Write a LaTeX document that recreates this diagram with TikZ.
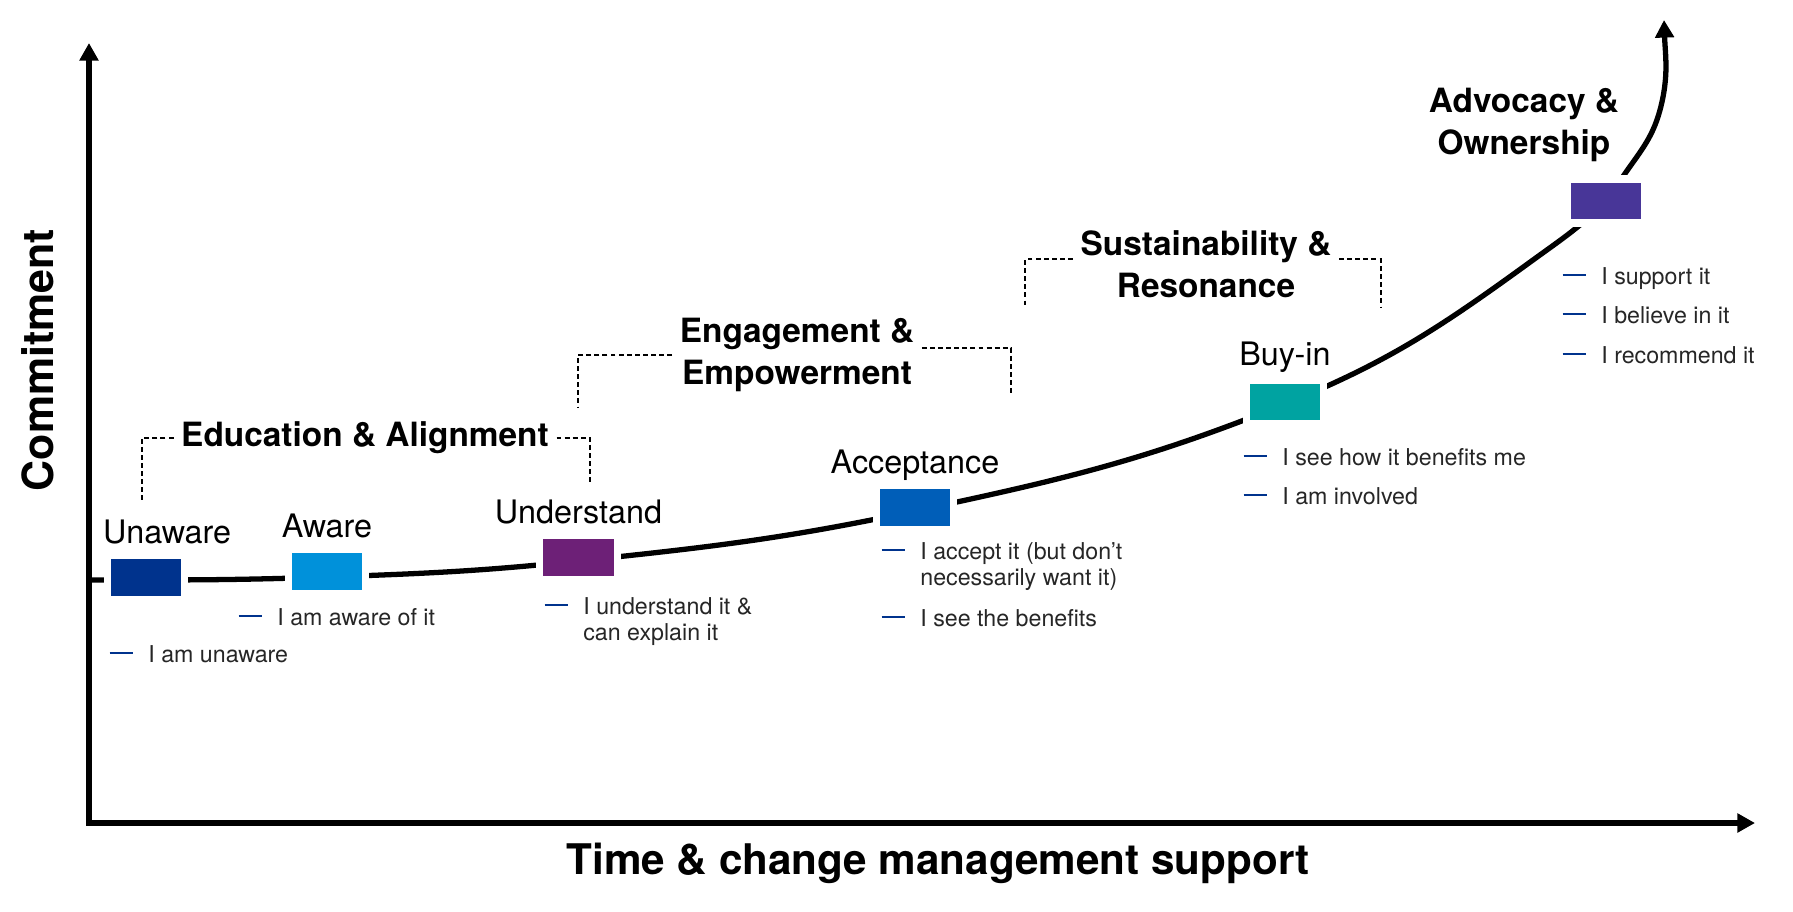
\documentclass[tikz,border=0pt]{standalone}
\usepackage{xcolor}
\usepackage{fontspec}
\setmainfont{TeX Gyre Heros}
\usepackage{tikz}
\usetikzlibrary{arrows.meta,positioning}

\definecolor{kpmgblue}{HTML}{00338D}
\definecolor{kpmgmedium}{HTML}{0091DA}
\definecolor{kpmgpurple}{HTML}{6D2077}
\definecolor{kpmgcobalt}{HTML}{005EB8}
\definecolor{kpmggreen}{HTML}{00A3A1}
\definecolor{kpmgviolet}{HTML}{483698}

\newcommand{\saying}[1]{\textcolor{kpmgblue}{\rule[2.3pt]{6.5pt}{0.55pt}}\hspace{4.5pt}\begin{tabular}[t]{@{}l@{}}#1\end{tabular}}

\begin{document}
\begin{tikzpicture}[x=0.01cm, y=-0.01cm,
    axis/.style={line width=1.5pt},
    curve/.style={line width=1.5pt},
    stagebox/.style={fill=#1, draw=white, line width=2pt, minimum width=0.77cm, minimum height=0.44cm, inner sep=0pt, outer sep=0pt},
    stagelabel/.style={font=\fontsize{9.2}{11}\selectfont, inner sep=0pt},
    phase/.style={font=\fontsize{9.5}{11.95}\selectfont\bfseries, align=center, inner sep=2pt},
    bracket/.style={line width=0.6pt, dash pattern=on 1.4pt off 0.9pt},
    saying/.style={anchor=base west, inner sep=0pt, font=\fontsize{6.6}{7.4}\selectfont, text=black!85}]
    \useasboundingbox (0,0) rectangle (1793,912);

    % axes
    \draw[axis, {Triangle[length=5pt,width=5.2pt]}-{Triangle[length=5pt,width=5.2pt]}] (89,43) -- (89,823) -- (1755,823);
    \node[font=\fontsize{12.2}{14}\selectfont\bfseries, rotate=90] (commitment) at (38,360) {Commitment};
    \node[font=\fontsize{12}{14}\selectfont\bfseries, anchor=base] (time) at (938,874) {Time \& change management support};

    % commitment curve
    \draw[curve, -{Triangle[length=5pt,width=5.2pt]}] (89,580) to[out=0,in=182] (327,577) to[out=2,in=186] (578,561)
        to[out=6,in=192] (915,511) to[out=12,in=202] (1285,404) to[out=22,in=216] (1533,260)
        to[out=36,in=236] (1622,178) to[out=56,in=255] (1660,110) to[out=75,in=-88] (1664,20);

    % stages
    \node[stagebox=kpmgblue] (unaware) at (146,577.5) {};
    \node[stagebox=kpmgmedium] (aware) at (327,571) {};
    \node[stagebox=kpmgpurple] (understand) at (578.5,557) {};
    \node[stagebox=kpmgcobalt] (acceptance) at (915,507.5) {};
    \node[stagebox=kpmggreen] (buyin) at (1285,402) {};
    \node[stagebox=kpmgviolet] (advocacy) at (1606,201) {};

    \node[stagelabel, above=3.3pt of unaware.north, anchor=base, xshift=6pt] (unaware-label) {Unaware};
    \node[stagelabel, above=3.3pt of aware.north, anchor=base] (aware-label) {Aware};
    \node[stagelabel, above=3.3pt of understand.north, anchor=base] (understand-label) {Understand};
    \node[stagelabel, above=3.3pt of acceptance.north, anchor=base] (acceptance-label) {Acceptance};
    \node[stagelabel, above=4.1pt of buyin.north, anchor=base] (buyin-label) {Buy-in};

    % phases
    \node[phase] (education) at (365,438) {Education \& Alignment};
    \node[phase] (engagement) at (797,355) {Engagement \&\\Empowerment};
    \node[phase] (sustain) at (1206,264) {Sustainability \&\\Resonance};
    \node[phase] (ownership) at (1524,125) {Advocacy \&\\Ownership};

    \draw[bracket] (education.west) -| (142,503);
    \draw[bracket] (education.east) -| (590,482);
    \draw[bracket] (engagement.west) -| (578,407);
    \draw[bracket] ([yshift=2pt]engagement.east) -| (1011,396);
    \draw[bracket] ([yshift=1.3pt]sustain.west) -| (1025,308);
    \draw[bracket] ([yshift=1.3pt]sustain.east) -| (1381,308);

    % what people say
    \node[saying] (s-unaware) at (109,662) {\saying{I am unaware}};
    \node[saying] (s-aware) at (238,625) {\saying{I am aware of it}};
    \node[saying] (s-understand) at (544,614) {\saying{I understand it \&\\can explain it}};
    \node[saying] (s-accept) at (881,559) {\saying{I accept it (but don’t\\necessarily want it)}};
    \node[saying] (s-benefits) at (881,626) {\saying{I see the benefits}};
    \node[saying] (s-howbenefits) at (1243,465) {\saying{I see how it benefits me}};
    \node[saying] (s-involved) at (1243,504) {\saying{I am involved}};
    \node[saying] (s-support) at (1562,284) {\saying{I support it}};
    \node[saying] (s-believe) at (1562,323) {\saying{I believe in it}};
    \node[saying] (s-recommend) at (1562,363) {\saying{I recommend it}};
\end{tikzpicture}
\end{document}
